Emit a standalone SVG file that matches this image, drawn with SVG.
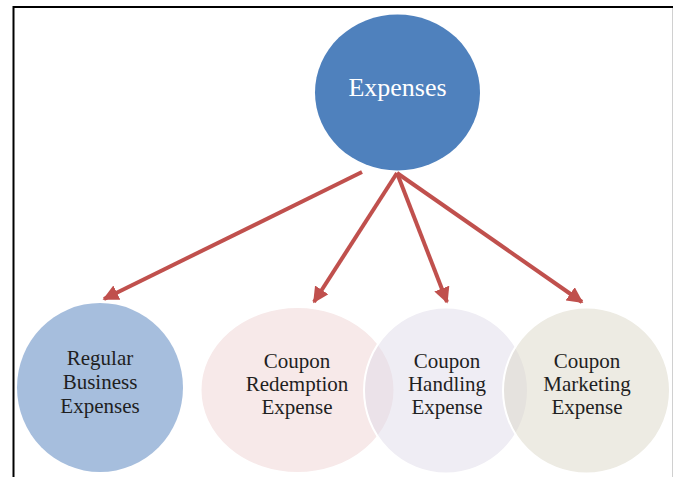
<svg xmlns="http://www.w3.org/2000/svg" width="679" height="477" viewBox="0 0 679 477">
<style>
.lbl{font-family:"Liberation Serif","DejaVu Serif",serif;font-size:21px;fill:#1f1f1f;text-anchor:middle}
.top{font-family:"Liberation Serif","DejaVu Serif",serif;font-size:26px;fill:#ffffff;text-anchor:middle}
.arr{stroke:#C0504D;stroke-width:4;fill:none;marker-end:url(#ah)}
.ring{stroke:#ffffff;stroke-width:2}
</style>
<defs>
<marker id="ah" viewBox="0 0 10 10" refX="9" refY="5" markerWidth="4" markerHeight="4" orient="auto" markerUnits="strokeWidth">
<path d="M0,0 L10,5 L0,10 z" fill="#C0504D"/>
</marker>
</defs>
<rect x="0" y="0" width="679" height="477" fill="#ffffff"/>
<path d="M13.5,477 V7 H673" fill="none" stroke="#000000" stroke-width="2"/>
<line x1="672.5" y1="8" x2="672.5" y2="477" stroke="#d0d0d0" stroke-width="1"/>
<g id="node-expenses">
<ellipse cx="397.5" cy="92.5" rx="82.5" ry="78" fill="#4F81BD"/>
<text class="top" x="397.5" y="96">Expenses</text>
</g>
<g id="node-regular">
<ellipse cx="100" cy="387.5" rx="83" ry="84.5" fill="#A6BEDD"/>
<text class="lbl" x="100" y="365">Regular</text>
<text class="lbl" x="100" y="389">Business</text>
<text class="lbl" x="100" y="413">Expenses</text>
</g>
<g id="node-redemption">
<ellipse class="ring" cx="297.5" cy="390" rx="97" ry="83" fill="#F7E9E9"/>
<text class="lbl" x="297" y="368">Coupon</text>
<text class="lbl" x="297" y="391">Redemption</text>
<text class="lbl" x="297" y="414">Expense</text>
</g>
<g id="node-handling">
<ellipse class="ring" cx="446" cy="390.5" rx="82" ry="83" fill="#DFDBE9" fill-opacity="0.5"/>
<text class="lbl" x="447" y="368">Coupon</text>
<text class="lbl" x="447" y="391">Handling</text>
<text class="lbl" x="447" y="414">Expense</text>
</g>
<g id="node-marketing">
<ellipse class="ring" cx="586.5" cy="390.5" rx="83.5" ry="83" fill="#DBD7C7" fill-opacity="0.5"/>
<text class="lbl" x="587" y="368">Coupon</text>
<text class="lbl" x="587" y="391">Marketing</text>
<text class="lbl" x="587" y="414">Expense</text>
</g>
<g id="connectors">
<line class="arr" x1="362" y1="172" x2="104" y2="299"/>
<line class="arr" x1="397" y1="173" x2="314" y2="302"/>
<line class="arr" x1="397" y1="173" x2="447" y2="302"/>
<line class="arr" x1="397" y1="173" x2="582" y2="302"/>
</g>
</svg>
